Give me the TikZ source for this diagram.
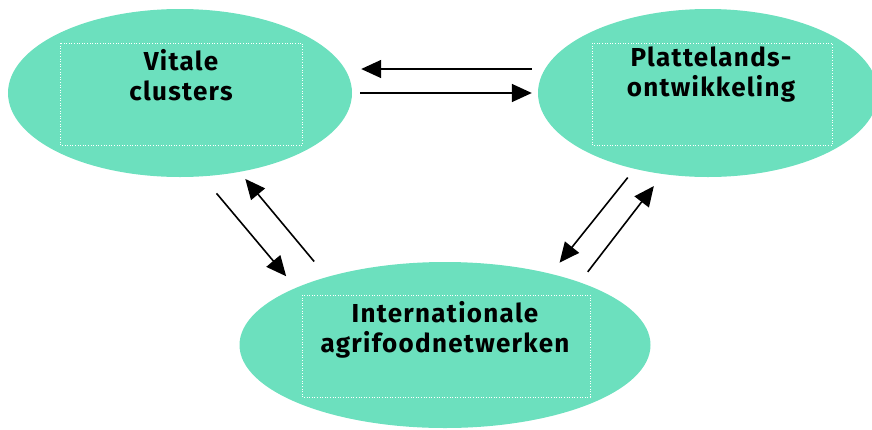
\documentclass[tikz,border=0pt]{standalone}
\usepackage{fontspec}
\setmainfont{Fira Sans}[LetterSpace=5]
\usepackage{tikz}
\usetikzlibrary{shapes.geometric,arrows.meta}
\definecolor{blob}{RGB}{108,224,190}

\begin{document}
\begin{tikzpicture}[x=1pt,y=-1pt,
  blobnode/.style={ellipse,fill=blob,inner sep=0pt},
  lbl/.style={align=center,font=\fontsize{26}{30}\selectfont\bfseries},
  frame/.style={draw=white,dotted,line width=.6pt},
  arr/.style={line width=1.6pt,-{Triangle[length=20pt,width=18pt]}}]
\useasboundingbox (0,0) rectangle (872,429);
\node[blobnode,minimum width=344pt,minimum height=168pt] (vc) at (180,93) {};
\node[blobnode,minimum width=340pt,minimum height=168pt] (pl) at (708,93) {};
\node[blobnode,minimum width=411pt,minimum height=166pt] (ic) at (445,345) {};
\draw[frame] (60,43) rectangle (302,145);
\draw[frame] (592,43) rectangle (832,145);
\draw[frame] (302,295) rectangle (590,397);
\node[lbl] (vct) at (181,75) {Vitale\\clusters};
\node[lbl] (plt) at (711,75) {Plattelands-\\ontwikkeling};
\node[lbl] (ict) at (445,330) {Internationale\\agrifoodnetwerken};
% top pair
\draw[arr,shorten <=6pt,shorten >=9pt] ([yshift=24pt]pl.west) -- ([yshift=24pt]vc.east);
\draw[arr,shorten <=8pt,shorten >=6pt] (vc.east) -- (pl.west);
% left pair
\draw[arr,shorten <=22pt,shorten >=15pt] (vc.-75.8) -- (ic.159.6);
\draw[arr,shorten <=20pt,shorten >=9pt] (ic.150.4) -- (vc.-53.6);
% right pair
\draw[arr,shorten <=11pt,shorten >=14pt] (pl.-134.8) -- (ic.34.9);
\draw[arr,shorten <=13pt,shorten >=15pt] (ic.25.8) -- (pl.-119.3);
\end{tikzpicture}
\end{document}
